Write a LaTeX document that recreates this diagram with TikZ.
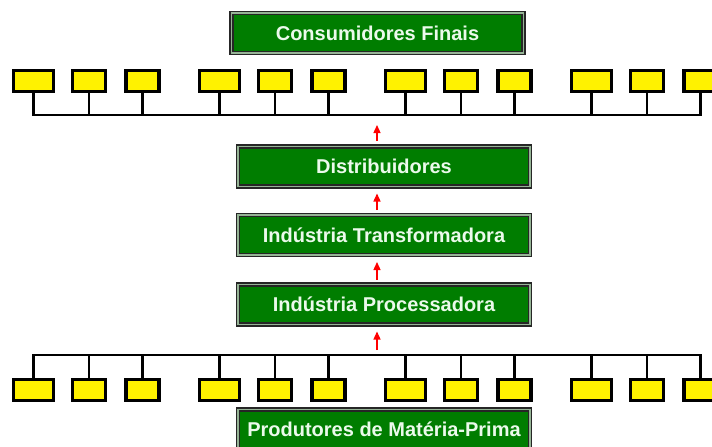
\documentclass[tikz,border=0pt]{standalone}
\usepackage{fontspec}
\setmainfont{Liberation Sans}
\usetikzlibrary{arrows.meta}

\definecolor{stagegreen}{RGB}{0,125,0}
\definecolor{framegap}{RGB}{150,180,150}
\definecolor{labelwhite}{RGB}{235,250,235}

\begin{document}
\begin{tikzpicture}[
    x=1pt, y=-1pt,
    stagebox/.style={rectangle, draw=black!85, line width=1.5pt, double=framegap, double distance=1.2pt, fill=stagegreen, text=labelwhite, font=\bfseries\fontsize{20}{24}\selectfont, minimum width=292pt, minimum height=40pt, inner sep=0pt, outer sep=0pt},
    cell/.style={rectangle, draw=black, line width=3.5pt, fill=yellow, minimum width=33pt, minimum height=21pt, inner sep=0pt, outer sep=0pt},
    widecell/.style={cell, minimum width=40pt},
    bus/.style={draw=black, line width=2.7pt},
    flow/.style={-{Triangle[length=8pt,width=7pt]}, red, line width=1.3pt, shorten <=5pt, shorten >=7pt}
]
    \useasboundingbox (0,0) rectangle (712,447);
    \fill[white] (0,0) rectangle (712,447);

    % Stages
    \node[stagebox] (cons) at (377.5,33) {Consumidores Finais};
    \node[stagebox] (dist) at (384,166.5) {Distribuidores};
    \node[stagebox] (trans) at (384,235) {Indústria Transformadora};
    \node[stagebox] (proc) at (384,304.5) {Indústria Processadora};
    \node[stagebox] (prod) at (384,429.5) {Produtores de Matéria-Prima};

    % Bus levels and arrow column
    \coordinate (tbus) at (0,115);
    \coordinate (bbus) at (0,355);
    \coordinate (ax) at (377,0);

    % Yellow cells, four groups of three
    \foreach \g in {0,1,2,3} {
        \pgfmathsetmacro{\ox}{12+186*\g}
        \node[widecell] (t\g a) at (\ox+21.5,81) {};
        \node[cell] (t\g b) at (\ox+77,81) {};
        \node[cell] (t\g c) at (\ox+130.5,81) {};
        \node[widecell] (b\g a) at (\ox+21.5,390) {};
        \node[cell] (b\g b) at (\ox+77,390) {};
        \node[cell] (b\g c) at (\ox+130.5,390) {};
    }

    % Top bus
    \draw[bus] (t0a.south) |- (t3c |- tbus) -- (t3c.south);
    \foreach \n in {t0b,t0c,t1a,t1b,t1c,t2a,t2b,t2c,t3a,t3b}
        \draw[bus] (\n.south) -- (\n |- tbus);

    % Bottom bus
    \draw[bus] (b0a.north) |- (b3c |- bbus) -- (b3c.north);
    \foreach \n in {b0b,b0c,b1a,b1b,b1c,b2a,b2b,b2c,b3a,b3b}
        \draw[bus] (\n.north) -- (\n |- bbus);

    % Arrows
    \draw[flow, shorten <=6pt, shorten >=10pt] (dist.north -| ax) -- (tbus -| ax);
    \draw[flow] (trans.north -| ax) -- (dist.south -| ax);
    \draw[flow] (proc.north -| ax) -- (trans.south -| ax);
    \draw[flow] (bbus -| ax) -- (proc.south -| ax);
\end{tikzpicture}
\end{document}
